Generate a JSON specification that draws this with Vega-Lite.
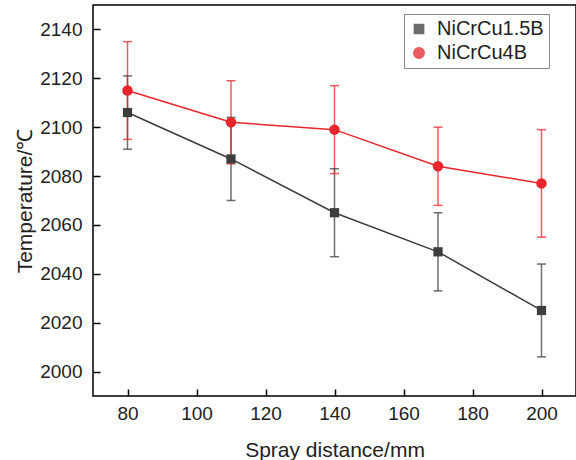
{
  "$schema": "https://vega.github.io/schema/vega-lite/v6.json",
  "width": 483,
  "height": 391,
  "autosize": {"type": "none"},
  "padding": {"left": 93, "top": 5, "right": 0, "bottom": 64},
  "background": "white",
  "data": {
    "values": [
      {"series": "NiCrCu1.5B", "x": 80, "y": 2106, "lo": 2091, "hi": 2121},
      {"series": "NiCrCu1.5B", "x": 110, "y": 2087, "lo": 2070, "hi": 2104},
      {"series": "NiCrCu1.5B", "x": 140, "y": 2065, "lo": 2047, "hi": 2083},
      {"series": "NiCrCu1.5B", "x": 170, "y": 2049, "lo": 2033, "hi": 2065},
      {"series": "NiCrCu1.5B", "x": 200, "y": 2025, "lo": 2006, "hi": 2044},
      {"series": "NiCrCu4B", "x": 80, "y": 2115, "lo": 2095, "hi": 2135},
      {"series": "NiCrCu4B", "x": 110, "y": 2102, "lo": 2085, "hi": 2119},
      {"series": "NiCrCu4B", "x": 140, "y": 2099, "lo": 2081, "hi": 2117},
      {"series": "NiCrCu4B", "x": 170, "y": 2084, "lo": 2068, "hi": 2100},
      {"series": "NiCrCu4B", "x": 200, "y": 2077, "lo": 2055, "hi": 2099}
    ]
  },
  "encoding": {
    "x": {
      "field": "x", "type": "quantitative",
      "scale": {"domain": [70, 210], "nice": false, "zero": false},
      "axis": {
        "title": "Spray distance/mm", "values": [80, 100, 120, 140, 160, 180, 200],
        "grid": false, "domain": false, "ticks": true, "offset": -7, "tickSize": 7, "labelPadding": 8, "titlePadding": 16
      }
    },
    "y": {
      "field": "y", "type": "quantitative",
      "scale": {"domain": [1990, 2150], "nice": false, "zero": false},
      "axis": {
        "title": "Temperature/℃", "values": [2000, 2020, 2040, 2060, 2080, 2100, 2120, 2140],
        "format": "d",
        "grid": false, "domain": false, "ticks": true, "offset": -7, "tickSize": 7, "labelPadding": 11, "titlePadding": 4
      }
    },
    "color": {
      "field": "series", "type": "nominal",
      "scale": {"domain": ["NiCrCu1.5B", "NiCrCu4B"], "range": ["#3d3d3d", "#e8262b"]},
      "legend": {
        "title": null,
        "orient": "none",
        "legendX": 311,
        "legendY": 9,
        "strokeColor": "#888888",
        "fillColor": "white",
        "padding": 5,
        "labelFontSize": 20,
        "labelFont": "Liberation Sans",
        "labelColor": "#222222",
        "labelOffset": 8,
        "rowPadding": 4,
        "symbolStrokeWidth": 1.5
      }
    }
  },
  "layer": [
    {
      "mark": {"type": "rule", "strokeWidth": 1.5, "opacity": 0.75},
      "encoding": {"y": {"field": "lo", "type": "quantitative"}, "y2": {"field": "hi"}}
    },
    {
      "mark": {"type": "tick", "orient": "horizontal", "size": 9, "thickness": 1.5, "opacity": 0.75},
      "encoding": {"y": {"field": "lo", "type": "quantitative"}}
    },
    {
      "mark": {"type": "tick", "orient": "horizontal", "size": 9, "thickness": 1.5, "opacity": 0.75},
      "encoding": {"y": {"field": "hi", "type": "quantitative"}}
    },
    {
      "mark": {"type": "line", "strokeWidth": 1.5},
      "encoding": {"detail": {"field": "series"}}
    },
    {
      "mark": {"type": "point", "filled": true, "opacity": 1},
      "encoding": {
        "shape": {
          "field": "series", "type": "nominal",
          "scale": {"domain": ["NiCrCu1.5B", "NiCrCu4B"], "range": ["square", "circle"]},
          "legend": null
        },
        "size": {
          "field": "series", "type": "nominal",
          "scale": {"domain": ["NiCrCu1.5B", "NiCrCu4B"], "range": [85, 110]},
          "legend": null
        }
      }
    }
  ],
  "config": {
    "font": "Liberation Sans",
    "view": {"stroke": "black", "strokeWidth": 1.5},
    "axis": {
      "zindex": 1,
      "ticks": true,
      "domainColor": "black", "domainWidth": 1.5,
      "tickColor": "black", "tickWidth": 1.5,
      "labelFontSize": 19, "labelColor": "#222222",
      "titleFontSize": 21, "titleFontWeight": "normal", "titleColor": "#222222"
    }
  }
}
